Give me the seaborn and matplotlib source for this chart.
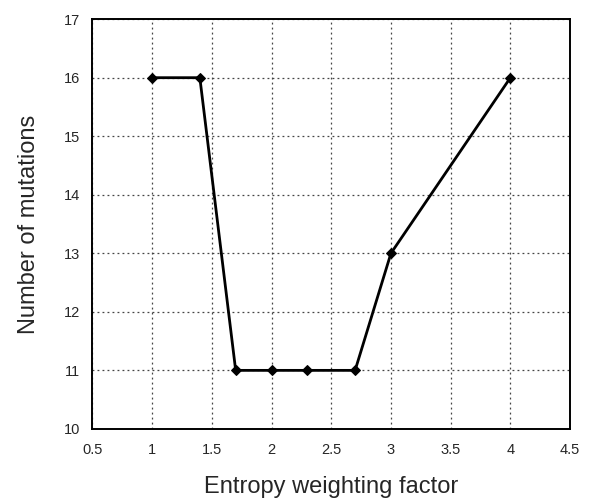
import matplotlib
matplotlib.use("Agg")
import matplotlib.pyplot as plt
import seaborn as sns
import pandas as pd

entropy_factor = [1.0, 1.4, 1.7, 2.0, 2.3, 2.7, 3.0, 4.0]
n_mutations = [16, 16, 11, 11, 11, 11, 13, 16]
x_ticks = [0.5, 1, 1.5, 2, 2.5, 3, 3.5, 4, 4.5]
x_tick_labels = ["0.5", "1", "1.5", "2", "2.5", "3", "3.5", "4", "4.5"]
y_ticks = [10, 11, 12, 13, 14, 15, 16, 17]


def main():
    sns.set_style("white")
    plt.rcParams["font.family"] = ["Liberation Sans", "DejaVu Sans"]

    df = pd.DataFrame({"factor": entropy_factor, "mutations": n_mutations})

    fig = plt.figure(figsize=(5.92, 5.04), dpi=100)
    ax = fig.add_axes([0.156, 0.149, 0.807, 0.813])

    sns.lineplot(
        data=df,
        x="factor",
        y="mutations",
        ax=ax,
        color="black",
        linewidth=2.0,
        marker="D",
        markersize=5,
        markeredgecolor="black",
        markerfacecolor="black",
    )

    ax.set_xlim(0.5, 4.5)
    ax.set_ylim(10, 17)
    ax.set_xticks(x_ticks)
    ax.set_xticklabels(x_tick_labels)
    ax.set_yticks(y_ticks)
    ax.grid(True, linestyle=(0, (1.5, 2.5)), color="#444444", linewidth=0.9)
    ax.tick_params(axis="both", labelsize=10.5, length=0)
    ax.tick_params(axis="x", pad=10)
    ax.tick_params(axis="y", pad=9)
    for spine in ax.spines.values():
        spine.set_color("black")
        spine.set_linewidth(1.4)

    ax.set_xlabel("Entropy weighting factor", fontsize=17, labelpad=14)
    ax.set_ylabel("Number of mutations", fontsize=17, labelpad=17)

    fig.savefig("out.png", dpi=100)


if __name__ == "__main__":
    main()
